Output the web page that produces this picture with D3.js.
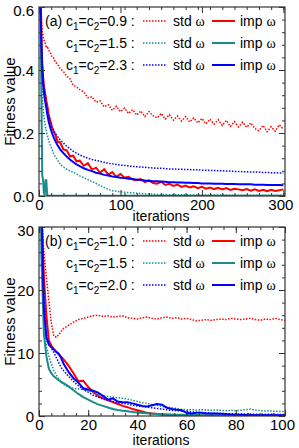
<!DOCTYPE html>
<html>
<head>
<meta charset="utf-8">
<script src="https://cdn.jsdelivr.net/npm/d3@7"></script>
<style>
body { margin: 0; background: #fff; }
text { font-family: "Liberation Sans", Arial, sans-serif; fill: #000; }
</style>
</head>
<body>
<script>
// ---- panel (a) data ----
var iterA = [0,1,2,3,4,5,6,7,8,9,10,12,14,16,18,20,23,26,30,34,38,42,46,50,
  55,60,65,70,75,80,85,90,95,100,105,110,115,120,125,130,135,140,145,150,
  155,160,165,170,175,180,185,190,195,200,205,210,215,220,225,230,235,240,245,250,
  255,260,265,270,275,280,285,290,295,300];

var redStdA = [1.0,0.8,0.64,0.56,0.522,0.51,0.495,0.49,0.482,0.47,0.476,0.462,0.455,0.44,0.438,0.425,0.418,0.404,0.395,0.38,0.372,0.352,0.346,0.338,
  0.33,0.312,0.315,0.298,0.302,0.283,0.29,0.272,0.285,0.268,
  0.279,0.262,0.274,0.257,0.27,0.252,0.268,0.255,0.248,0.262,
  0.244,0.258,0.241,0.254,0.238,0.252,0.235,0.248,0.232,0.246,
  0.229,0.244,0.228,0.242,0.224,0.24,0.221,0.236,0.219,0.234,
  0.218,0.232,0.214,0.207,0.224,0.204,0.22,0.206,0.226,0.212];
var redImpA = [1.2,0.9,0.66,0.5,0.42,0.38,0.35,0.335,0.32,0.302,0.29,0.258,0.238,0.218,0.205,0.195,0.172,0.17,0.148,0.145,0.126,0.128,0.11,0.112,
  0.096,0.104,0.084,0.09,0.074,0.085,0.068,0.076,0.061,0.07,
  0.058,0.061,0.052,0.05,0.054,0.044,0.05,0.041,0.039,0.045,
  0.035,0.039,0.032,0.036,0.029,0.033,0.027,0.031,0.025,0.029,
  0.023,0.027,0.022,0.026,0.021,0.025,0.019,0.023,0.021,0.018,
  0.022,0.017,0.021,0.016,0.02,0.015,0.02,0.016,0.018,0.021];
var tealStdA = [1.2,0.8,0.5,0.38,0.32,0.28,0.255,0.235,0.22,0.205,0.195,0.175,0.16,0.148,0.135,0.125,0.114,0.1,0.092,0.085,0.08,0.075,0.07,0.064,
  0.058,0.052,0.046,0.04,0.033,0.027,0.021,0.017,0.015,0.013,
  0.012,0.011,0.01,0.009,0.008,0.007,0.006,0.006,0.005,0.005,
  0.005,0.004,0.004,0.004,0.004,0.004,0.003,0.003,0.003,0.003,
  0.003,0.003,0.003,0.003,0.003,0.003,0.002,0.002,0.002,0.002,
  0.002,0.002,0.002,0.002,0.002,0.002,0.002,0.002,0.002,0.002];
var tealImpA = [1.2,0.9,0.6,0.3,0.067,0.05,0.01,0.003,0.05,0.05,0.003,0.001,0.001,0.001,0.001,0.001,0.001,0.001,0.001,0.001,0.001,0.001,0.001,0.001,
  0.001,0.001,0.001,0.001,0.001,0.001,0.001,0.001,0.001,0.001,
  0.001,0.001,0.001,0.001,0.001,0.001,0.001,0.001,0.001,0.001,
  0.001,0.001,0.001,0.001,0.001,0.001,0.001,0.001,0.001,0.001,
  0.001,0.001,0.001,0.001,0.001,0.001,0.001,0.001,0.001,0.001,
  0.001,0.001,0.001,0.001,0.001,0.001,0.001,0.001,0.001,0.001];
var blueStdA = [1.2,0.9,0.65,0.5,0.42,0.37,0.34,0.32,0.3,0.285,0.272,0.25,0.235,0.22,0.208,0.198,0.188,0.178,0.168,0.158,0.15,0.142,0.136,0.13,
  0.125,0.12,0.116,0.113,0.11,0.107,0.104,0.102,0.1,0.098,
  0.097,0.095,0.094,0.093,0.092,0.091,0.09,0.089,0.088,0.088,
  0.087,0.086,0.086,0.085,0.085,0.084,0.084,0.083,0.083,0.082,
  0.082,0.081,0.081,0.08,0.08,0.079,0.079,0.078,0.078,0.077,
  0.077,0.076,0.076,0.076,0.075,0.075,0.074,0.074,0.073,0.073];
var blueImpA = [1.2,0.85,0.6,0.47,0.4,0.36,0.33,0.31,0.295,0.28,0.262,0.235,0.215,0.2,0.186,0.175,0.16,0.148,0.136,0.125,0.116,0.108,0.1,0.095,
  0.088,0.083,0.079,0.074,0.071,0.067,0.065,0.062,0.06,0.058,
  0.057,0.055,0.054,0.052,0.051,0.049,0.048,0.047,0.047,0.046,
  0.045,0.044,0.044,0.043,0.043,0.042,0.042,0.041,0.041,0.04,
  0.04,0.04,0.039,0.039,0.039,0.038,0.038,0.038,0.037,0.037,
  0.037,0.037,0.036,0.036,0.036,0.035,0.035,0.035,0.035,0.034];

// ---- panel (b) data ----
var iterB = [0,1,2,3,4,5,6,7,8,9,10,12,14,16,18,20,22,24,26,28,30,32,34,36,38,40,
  42,44,46,48,50,52,54,56,58,60,62,64,66,68,70,72,74,76,78,80,82,84,86,88,90,92,94,96,98,100];

var redStdB = [60,32,26,22,18.3,14.8,12.7,12.5,12.9,13.4,13.9,
  14.4,14.9,15.3,15.5,15.7,15.9,16.0,15.8,15.9,15.7,15.8,15.9,15.6,15.5,15.4,
  15.6,15.7,15.5,15.4,15.6,15.7,15.5,15.6,15.4,15.5,15.3,15.1,15.2,15.3,15.2,
  15.3,15.4,15.3,15.5,15.4,15.3,15.4,15.5,15.3,15.2,15.4,15.3,15.5,15.3,15.2];
var redImpB = [60,33,22,16,12,11.2,10.6,10.2,9.8,9.4,9.0,
  8.0,6.8,5.5,5.6,4.6,3.8,3.2,2.8,2.5,2.2,1.9,1.6,1.4,1.1,0.9,
  0.7,0.5,0.4,0.3,0.25,0.2,0.15,0.12,0.1,0.08,0.07,0.06,0.06,0.05,0.05,
  0.05,0.04,0.04,0.04,0.04,0.03,0.03,0.03,0.03,0.03,0.03,0.03,0.03,0.03,0.03];
var tealStdB = [60,30,16,11,9.5,8.3,7.3,6.5,5.9,5.4,5.0,
  4.6,4.4,4.3,4.2,4.0,3.7,3.4,3.2,3.1,3.0,2.9,2.8,2.7,2.5,2.3,
  2.1,2.0,1.8,1.7,1.5,1.4,1.3,1.2,1.05,1.0,1.0,0.95,1.0,0.95,0.9,
  0.95,0.9,0.85,0.9,0.85,0.9,1.0,1.1,0.95,0.85,0.8,0.8,0.75,0.7,0.7];
var tealImpB = [60,25,13,9.5,7.5,6.8,6.3,6.0,5.7,5.4,5.2,
  4.7,4.1,3.5,3.0,2.6,2.2,1.85,1.6,1.35,1.1,0.95,0.85,0.75,0.65,0.55,
  0.48,0.42,0.37,0.32,0.28,0.25,0.22,0.2,0.18,0.16,0.15,0.14,0.13,0.12,0.11,
  0.1,0.1,0.09,0.09,0.08,0.08,0.07,0.07,0.07,0.06,0.06,0.06,0.05,0.05,0.05];
var blueStdB = [60,35,19,13,11.6,10.8,10.1,9.3,8.5,7.7,7.2,
  6.3,5.5,4.8,4.2,3.8,3.3,3.0,2.7,2.5,2.3,2.1,2.0,1.9,1.7,1.6,
  1.5,1.4,1.3,1.2,1.1,1.0,0.9,0.85,0.8,0.7,0.65,0.6,0.55,0.5,0.45,
  0.42,0.4,0.38,0.36,0.34,0.32,0.31,0.3,0.29,0.28,0.27,0.27,0.26,0.25,0.25];
var blueImpB = [60,32,17,12.5,11.3,10.9,10.6,10.2,9.9,9.2,8.3,
  7.0,6.0,5.3,4.4,4.2,4.0,3.7,3.2,2.6,2.8,2.3,2.2,2.2,2.0,1.8,
  1.6,1.5,1.7,1.9,1.8,1.3,1.1,1.0,0.9,0.5,0.4,0.5,0.5,0.4,0.4,
  0.4,0.35,0.3,0.25,0.2,0.2,0.15,0.15,0.12,0.12,0.1,0.1,0.1,0.1,0.1];

// ticks and legend text
var xTicksA = [0,100,200,300], yTicksA = [0,0.2,0.4,0.6];
var xTicksB = [0,20,40,60,80,100], yTicksB = [0,10,20,30];
var cValuesA = ["0.9","1.5","2.3"], cValuesB = ["1.0","1.5","2.0"];
var colors = ["#ff0000", "#1a8c8c", "#0000ff"];

var svg = d3.select("body").append("svg")
    .attr("width", 299)
    .attr("height", 448);

function drawPanel(p) {
  var x = d3.scaleLinear().domain(p.xDomain).range([39, 285]);
  var y = d3.scaleLinear().domain(p.yDomain).range([p.bottom, p.top]);
  var g = svg.append("g");

  g.append("clipPath").attr("id", p.id)
    .append("rect")
    .attr("x", 39).attr("y", p.top)
    .attr("width", 246).attr("height", p.bottom - p.top);

  var line = d3.line()
    .x(function(d, i) { return x(p.iter[i]); })
    .y(function(d) { return y(d); });

  p.series.forEach(function(s) {
    g.append("path")
      .datum(s.values)
      .attr("clip-path", "url(#" + p.id + ")")
      .attr("fill", "none")
      .attr("stroke", s.color)
      .attr("stroke-width", s.dotted ? 1.5 : 2)
      .attr("stroke-dasharray", s.dotted ? "1.5,1.5" : null)
      .attr("d", line);
  });

  // frame
  g.append("rect")
    .attr("x", 39).attr("y", p.top)
    .attr("width", 246).attr("height", p.bottom - p.top)
    .attr("fill", "none").attr("stroke", "#333").attr("stroke-width", 1.2);

  function ticks(axis, tr, values, size) {
    var a = g.append("g").attr("transform", tr)
      .call(axis.tickValues(values).tickSize(-size).tickFormat(""));
    a.select(".domain").remove();
    a.selectAll("line").attr("stroke", "#333");
    return a;
  }
  ticks(d3.axisBottom(x), "translate(0," + p.bottom + ")", p.xMinor, 3);
  ticks(d3.axisTop(x), "translate(0," + p.top + ")", p.xMinor, 3);
  ticks(d3.axisLeft(y), "translate(39,0)", p.yMinor, 3);
  ticks(d3.axisRight(y), "translate(285,0)", p.yMinor, 3);
  ticks(d3.axisTop(x), "translate(0," + p.top + ")", p.xTicks, 6);
  ticks(d3.axisRight(y), "translate(285,0)", p.yTicks, 6);

  var ax = g.append("g").attr("transform", "translate(0," + p.bottom + ")")
    .call(d3.axisBottom(x).tickValues(p.xTicks).tickSize(-6).tickPadding(3));
  ax.select(".domain").remove();
  ax.selectAll("line").attr("stroke", "#333");
  ax.selectAll("text").style("font-size", "15px").attr("font-family", null)
    .attr("dx", function(d, i) { return i === p.xTicks.length - 1 ? -3 : 0; });

  var ay = g.append("g").attr("transform", "translate(39,0)")
    .call(d3.axisLeft(y).tickValues(p.yTicks).tickSize(-6).tickPadding(5).tickFormat(p.yFormat));
  ay.select(".domain").remove();
  ay.selectAll("line").attr("stroke", "#333");
  ay.selectAll("text").style("font-size", "15px").attr("font-family", null)
    .attr("dy", function(d, i) { return i === p.yTicks.length - 1 ? "0.55em" : "0.35em"; });

  g.append("text")
    .attr("x", 161).attr("y", p.bottom + p.titleGap)
    .attr("text-anchor", "middle").style("font-size", "14px")
    .text("iterations");
  g.append("text")
    .attr("transform", "translate(15," + (p.top + p.bottom) / 2 + ") rotate(-90)")
    .attr("text-anchor", "middle").style("font-size", "15px")
    .text("Fitness value");

  // legend
  g.append("text").attr("x", 45).attr("y", p.top + 19)
    .style("font-size", "14px").text(p.tag);
  p.cValues.forEach(function(c, i) {
    var by = p.top + 19 + i * 22;
    var t = g.append("text").attr("x", 66).attr("y", by).style("font-size", "14px");
    t.append("tspan").text("c");
    t.append("tspan").attr("dy", 4).style("font-size", "10px").text("1");
    t.append("tspan").attr("dy", -4).text("=c");
    t.append("tspan").attr("dy", 4).style("font-size", "10px").text("2");
    t.append("tspan").attr("dy", -4).text("=" + c + " :");
    g.append("line").attr("x1", 143).attr("x2", 167).attr("y1", by - 5).attr("y2", by - 5)
      .attr("stroke", colors[i]).attr("stroke-width", 1.5).attr("stroke-dasharray", "1.5,1.5");
    g.append("line").attr("x1", 212).attr("x2", 235).attr("y1", by - 5).attr("y2", by - 5)
      .attr("stroke", colors[i]).attr("stroke-width", 2);
    [["std ", 173], ["imp ", 240]].forEach(function(w) {
      var tt = g.append("text").attr("x", w[1]).attr("y", by).style("font-size", "14px");
      tt.append("tspan").text(w[0]);
      tt.append("tspan").style("font-family", "'Liberation Serif', 'DejaVu Serif', serif").text("ω");
    });
  });
}

drawPanel({
  id: "clipA", tag: "(a)", top: 7, bottom: 196, titleGap: 25,
  xDomain: [0, 302], yDomain: [0, 0.6],
  iter: iterA, xTicks: xTicksA, yTicks: yTicksA,
  xMinor: d3.range(0, 301, 15), yMinor: d3.range(0, 0.61, 0.04),
  yFormat: d3.format(".1f"), cValues: cValuesA,
  series: [
    {values: redStdA, color: colors[0], dotted: true},
    {values: redImpA, color: colors[0]},
    {values: tealStdA, color: colors[1], dotted: true},
    {values: tealImpA, color: colors[1]},
    {values: blueStdA, color: colors[2], dotted: true},
    {values: blueImpA, color: colors[2]}
  ]
});

drawPanel({
  id: "clipB", tag: "(b)", top: 227, bottom: 416, titleGap: 29,
  xDomain: [0, 100], yDomain: [0, 30],
  iter: iterB, xTicks: xTicksB, yTicks: yTicksB,
  xMinor: d3.range(0, 101, 5), yMinor: d3.range(0, 31, 2),
  yFormat: d3.format("d"), cValues: cValuesB,
  series: [
    {values: redStdB, color: colors[0], dotted: true},
    {values: redImpB, color: colors[0]},
    {values: tealStdB, color: colors[1], dotted: true},
    {values: tealImpB, color: colors[1]},
    {values: blueStdB, color: colors[2], dotted: true},
    {values: blueImpB, color: colors[2]}
  ]
});
</script>
</body>
</html>
